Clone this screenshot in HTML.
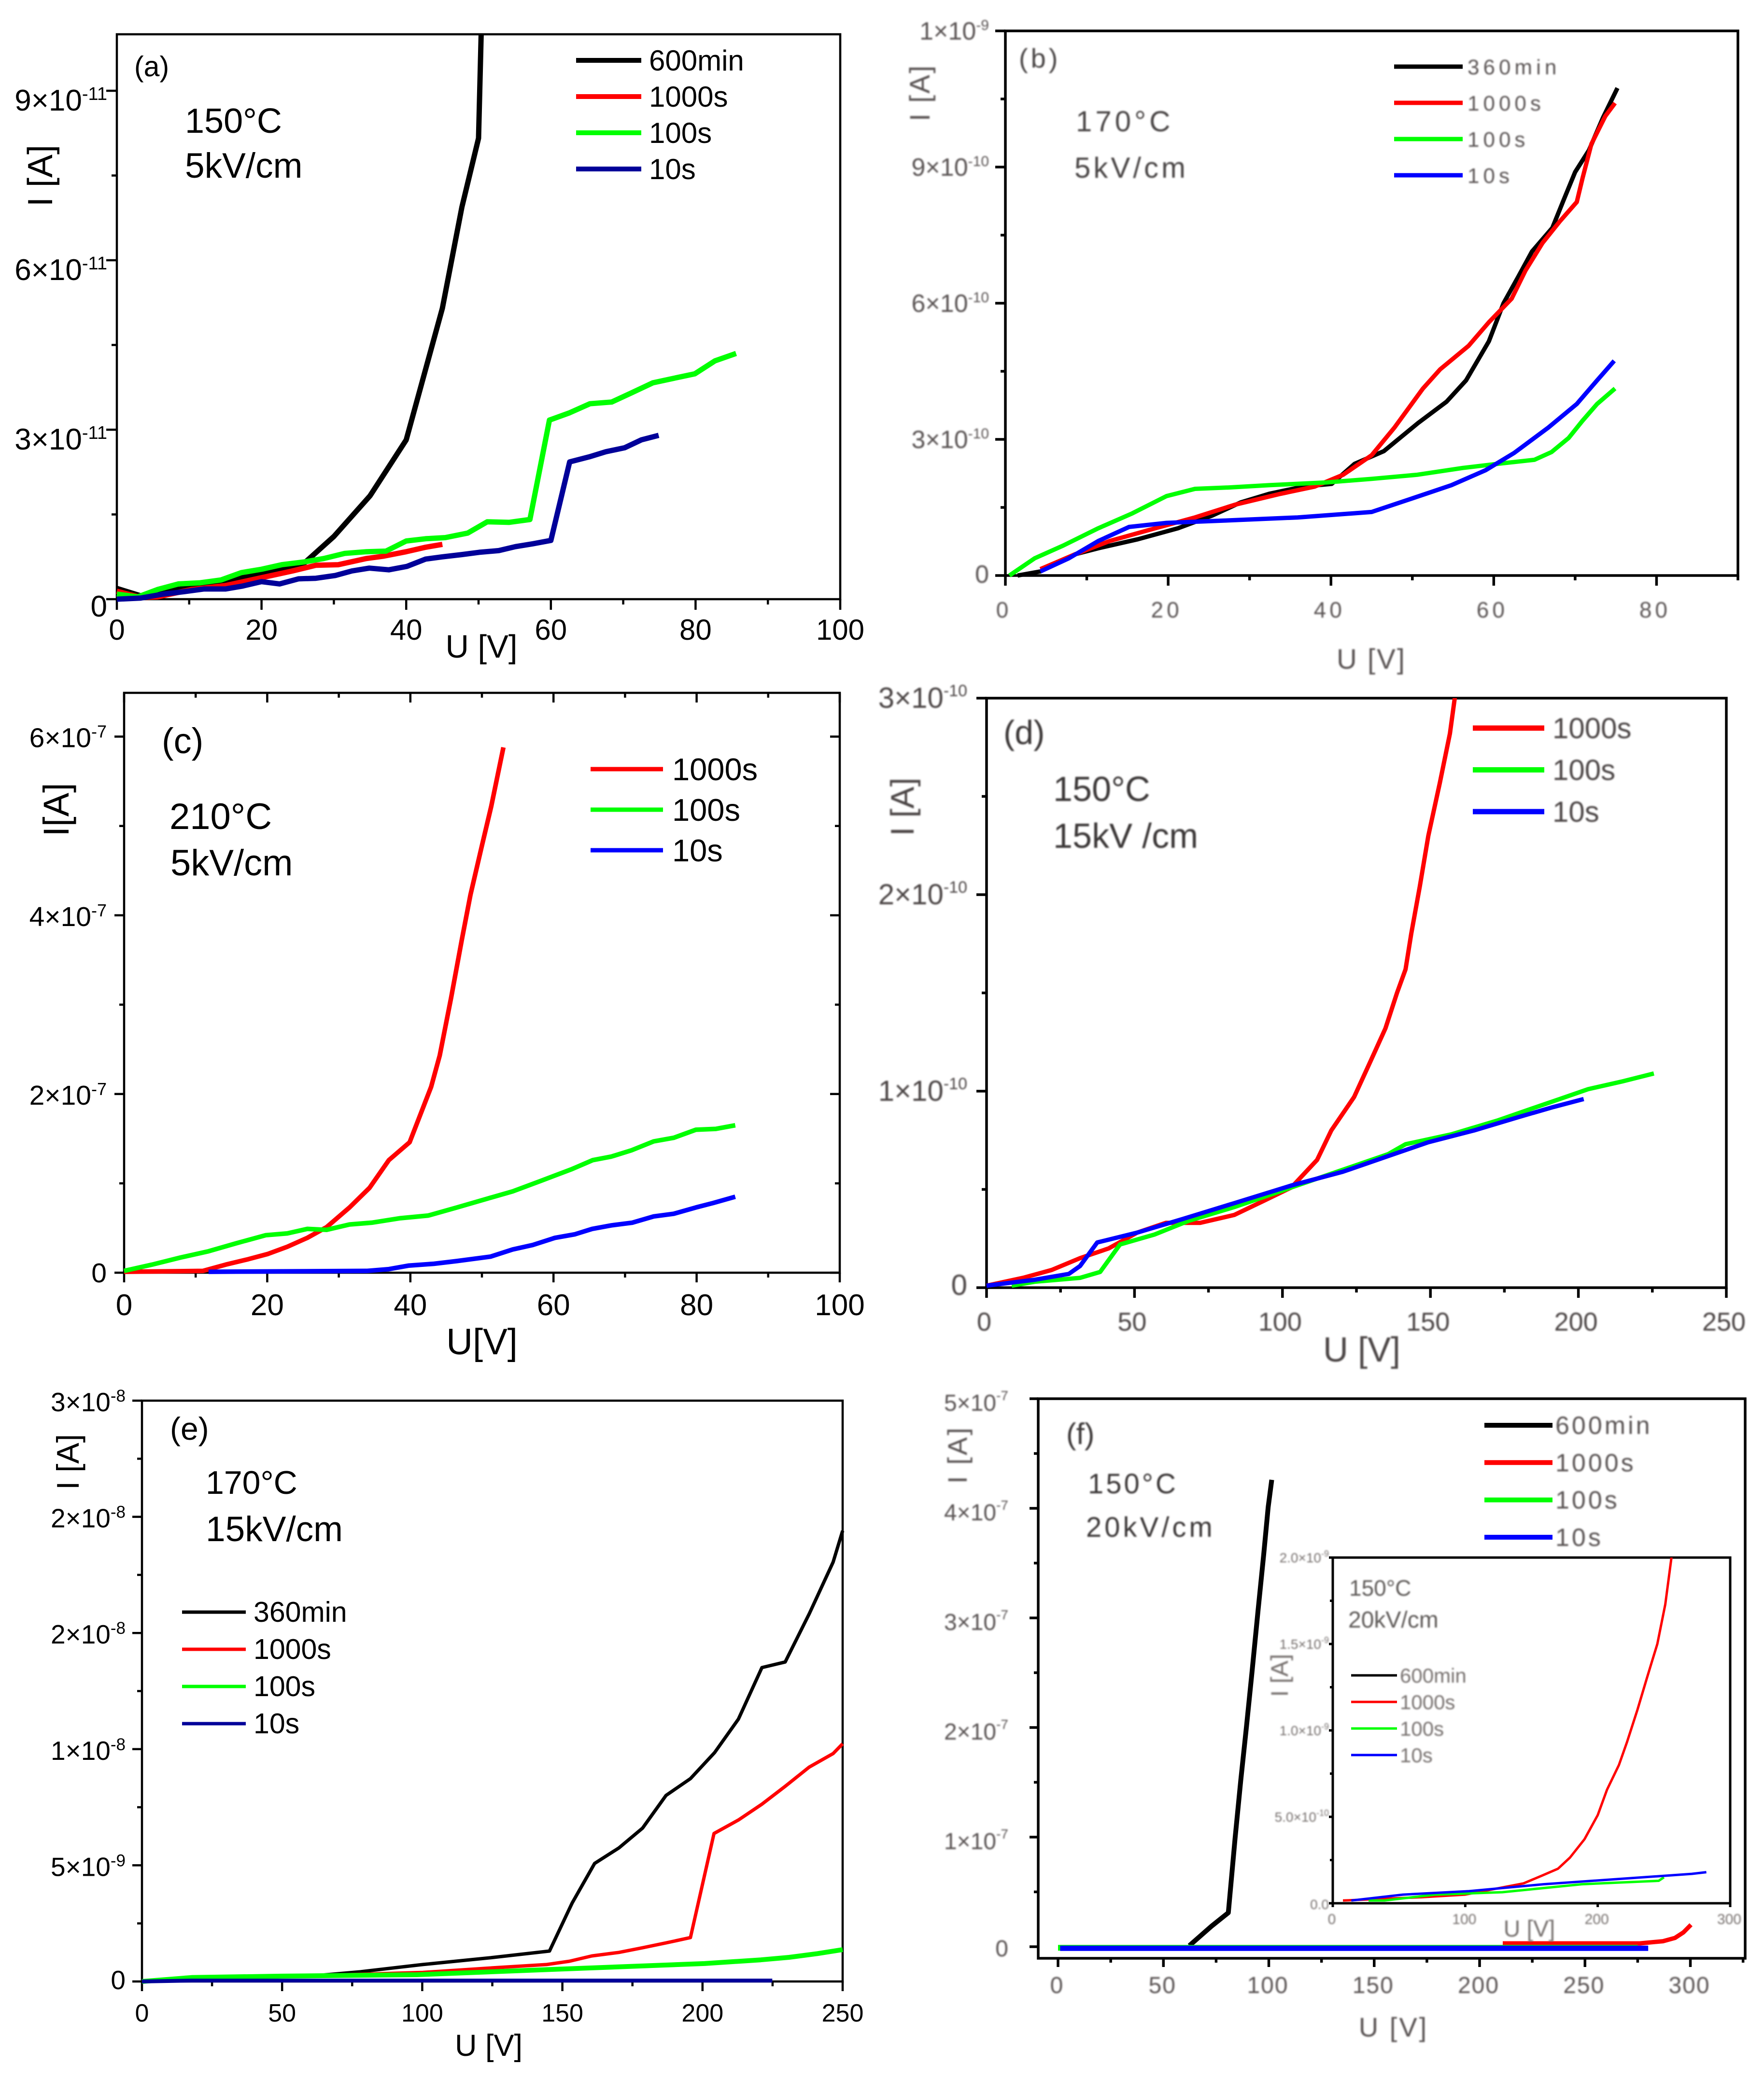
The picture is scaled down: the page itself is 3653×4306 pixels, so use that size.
<!DOCTYPE html>
<html lang="en">
<head>
<meta charset="utf-8">
<title>Current-voltage curves, panels a to f</title>
<style>
html,body{margin:0;padding:0;background:#fff}
svg{display:block}
text{font-family:"Liberation Sans",sans-serif}
</style>
</head>
<body>
<svg id="figure" xmlns="http://www.w3.org/2000/svg" width="3653" height="4306" viewBox="0 0 3653 4306">
<rect x="0" y="0" width="3653" height="4306" fill="#fff"/>
</svg>
<script>
// Panel (a): U in V, I in 1e-11 A
const aU600=[0,3.3,7,10,15,20,26,30,35,40,45,47.7,50,50.4];
const aI600=[0.19,0.06,0.15,0.2,0.32,0.46,0.65,1.11,1.83,2.82,5.15,6.94,8.16,10.2];
const aU1000=[0,3.3,5.6,10.3,15,20,24.3,27.5,30.6,34.5,36.8,40,42.7,45];
const aI1000=[0.14,0.03,0.04,0.17,0.24,0.38,0.5,0.6,0.61,0.72,0.76,0.84,0.92,0.97];
const aU100=[0,2.9,5.6,8.5,11.5,14.4,17.2,20,22.8,25.9,28.6,31.5,34.5,37.2,40,42.7,45.4,48.5,51.2,54.2,57.1,59.8,62.6,65.4,68.4,71.1,74.1,77,79.9,82.7,85.6];
const aI100=[0.09,0.04,0.17,0.27,0.29,0.34,0.47,0.53,0.61,0.66,0.72,0.81,0.84,0.85,1.03,1.07,1.09,1.17,1.37,1.36,1.41,3.17,3.3,3.46,3.49,3.65,3.83,3.91,3.99,4.22,4.35];
const aU10=[0,3.3,6.4,9.1,12,15,17.3,20,22.5,25.1,27.5,30.2,32.5,34.9,37.6,40.1,42.7,45,47.7,50.1,52.8,55.1,57.5,60,62.6,65.3,67.6,70.2,72.5,74.9];
const aI10=[0,0.02,0.09,0.13,0.18,0.18,0.23,0.31,0.27,0.36,0.37,0.42,0.5,0.55,0.52,0.58,0.71,0.75,0.79,0.83,0.86,0.93,0.98,1.04,2.43,2.52,2.61,2.68,2.82,2.9];
const aXTicks=[0,20,40,60,80,100];
const aXMinor=[10,30,50,70,90];
const aYTicks=[0,3,6,9];
const aYMinor=[1.5,4.5,7.5];
const aYLabels=['0','3×10^-11','6×10^-11','9×10^-11'];

// Panel (b): U in V, I in 1e-10 A
const bU360=[1.5,4.3,8.6,11.4,16.3,21.2,25.4,28.9,32.4,36.6,40.1,42.9,46.5,50.7,54.2,56.6,59.4,61.2,63,64.7,67.2,68.6,70,71.7,73.4,75.2];
const bI360=[0,0.09,0.47,0.6,0.8,1.04,1.32,1.61,1.8,1.96,2.02,2.46,2.74,3.36,3.83,4.3,5.16,6,6.58,7.14,7.66,8.28,8.89,9.37,10.08,10.74];
const bU1000=[4.3,8.6,12.8,18.4,23.3,28.2,33.8,38,41.5,45,47.8,51.3,53.4,56.9,59.4,62.2,63.9,66,68.1,70.2,70.9,72,73.7,74.9];
const bI1000=[0.14,0.47,0.76,1.04,1.28,1.56,1.8,1.96,2.22,2.65,3.26,4.12,4.54,5.06,5.58,6.1,6.72,7.33,7.8,8.23,8.75,9.51,10.12,10.41];
const bU100=[0.5,3.6,7.1,11.4,15.6,19.8,23.3,27.5,32.4,39.4,45,50.6,56.2,60.4,65,67.1,69.2,70.9,72.7,74.9];
const bI100=[0,0.38,0.66,1.04,1.37,1.75,1.91,1.94,1.99,2.05,2.13,2.22,2.37,2.46,2.55,2.72,3.03,3.41,3.78,4.12];
const bU10=[4.3,7.8,11.4,15.2,19.8,26.8,35.9,45,50,54.8,59,62.5,66.7,70.2,72.7,74.8];
const bI10=[0.09,0.38,0.76,1.07,1.16,1.21,1.28,1.4,1.7,1.99,2.32,2.7,3.26,3.78,4.3,4.73];
const bXTicks=[0,20,40,60,80];
const bXMinor=[10,30,50,70,90];
const bYTicks=[0,3,6,9,12];
const bYMinor=[1.5,4.5,7.5,10.5];
const bYLabels=['0','3×10^-10','6×10^-10','9×10^-10','1×10^-9'];

// Panel (c): U in V, I in 1e-7 A
const cU1000=[0,11,14.2,17.3,20.1,22.8,25.6,28.3,31.5,34.3,37,39.9,42.9,44.1,45.7,47.2,48.4,50,51.3,53];
const cI1000=[0.01,0.02,0.09,0.15,0.21,0.29,0.39,0.51,0.73,0.95,1.26,1.46,2.08,2.43,3.08,3.73,4.23,4.78,5.22,5.88];
const cU100=[0,3.9,7.9,11.8,15.7,19.8,22.8,25.6,28.3,31.5,34.6,38.6,42.5,46.5,50.8,54.3,58.3,62.6,65.5,68.1,70.9,74,76.8,79.9,82.7,85.4];
const cI100=[0.02,0.09,0.17,0.24,0.33,0.42,0.44,0.49,0.48,0.54,0.56,0.61,0.64,0.73,0.83,0.91,1.03,1.16,1.26,1.3,1.37,1.47,1.51,1.6,1.61,1.65];
const cU10=[11.8,33.9,37,39.8,43.3,46.5,51.2,54.3,57.1,60.2,63,65.4,68.1,71,74,76.8,79.9,82.3,85.4];
const cI10=[0.01,0.02,0.04,0.08,0.1,0.13,0.18,0.26,0.31,0.39,0.43,0.49,0.53,0.56,0.63,0.66,0.73,0.78,0.85];
const cXTicks=[0,20,40,60,80,100];
const cXMinor=[10,30,50,70,90];
const cYTicks=[0,2,4,6];
const cYMinor=[1,3,5];
const cYLabels=['0','2×10^-7','4×10^-7','6×10^-7'];

// Panel (d): U in V, I in 1e-10 A
const dU1000=[0,12.3,22,31.6,41.3,50.9,60.6,72.2,83.7,93.4,103,111.7,116.5,124.2,130,134.8,138.7,141.6,143.5,146.4,149.3,153.2,156.6,158.4];
const dI1000=[0.01,0.05,0.09,0.15,0.2,0.28,0.33,0.33,0.37,0.44,0.51,0.65,0.8,0.97,1.16,1.32,1.5,1.62,1.8,2.04,2.3,2.57,2.82,3.02];
const dU100=[8.5,16.2,31.6,38.4,45.1,56.7,68.3,83.7,95.3,108.8,120.4,135.8,141.6,157,172.5,184,193.7,203.3,214.9,225.5];
const dI100=[0.01,0.03,0.05,0.08,0.22,0.27,0.34,0.41,0.47,0.54,0.6,0.68,0.73,0.78,0.85,0.91,0.96,1.01,1.05,1.09];
const dU10=[0,16.2,27.8,31.6,37.4,50.9,66.4,83.7,103,120.4,135.8,149.3,164.7,180.2,191.7,201.8];
const dI10=[0.01,0.04,0.07,0.11,0.23,0.28,0.35,0.43,0.52,0.59,0.67,0.74,0.8,0.87,0.92,0.96];
const dXTicks=[0,50,100,150,200,250];
const dXMinor=[25,75,125,175,225];
const dYTicks=[0,1,2,3];
const dYMinor=[0.5,1.5,2.5];
const dYLabels=['0','1×10^-10','2×10^-10','3×10^-10'];

// Panel (e): U in V, I in 1e-9 A
const eU360=[0,17.7,61.9,78,100.2,124.3,145.4,153.5,161.5,170.2,178.6,187,195.7,204.3,212.8,221.2,229.5,238.1,246.6,250];
const eI360=[0,0.14,0.25,0.42,0.73,1.02,1.31,3.38,5.08,5.75,6.6,8.01,8.73,9.85,11.29,13.51,13.75,15.83,18.05,19.4];
const eU1000=[0,17.7,61.9,100.2,124.3,144.4,152.5,160.5,170.2,178.6,187,195.7,204.1,212.8,221.2,229.5,238.1,246.6,250];
const eI1000=[0,0.19,0.25,0.39,0.58,0.73,0.87,1.1,1.25,1.45,1.66,1.89,6.37,6.95,7.63,8.4,9.23,9.81,10.23];
const eU100=[0,17.7,49.9,98.1,146.4,200.7,220.8,230.9,241,250];
const eI100=[0,0.17,0.23,0.29,0.52,0.77,0.93,1.04,1.2,1.37];
const eU10=[0,17.7,224.9];
const eI10=[0,0.04,0.04];
const eXTicks=[0,50,100,150,200,250];
const eXMinor=[25,75,125,175,225];
const eYTicks=[0,5,10,15,20,25];
const eYMinor=[2.5,7.5,12.5,17.5,22.5];
const eYLabels=['0','5×10^-9','1×10^-8','2×10^-8','2×10^-8','3×10^-8'];

// Panel (f): U in V, I in 1e-7 A
const fU600=[62.3,73,80.8,84,86.7,89.4,92,94.9,97.6,99.7,101.4];
const fI600=[0.01,0.19,0.31,0.99,1.52,2.01,2.5,3.07,3.58,4.01,4.26];
const fU1000=[211,276,287,292.7,296.7,300.3];
const fI1000=[0.03,0.03,0.05,0.08,0.13,0.2];
const fU100=[0,275];
const fI100=[-0.01,-0.01];
const fU10=[1,280];
const fI10=[-0.015,-0.015];
const fXTicks=[0,50,100,150,200,250,300];
const fXMinor=[25,75,125,175,225,275,325];
const fYTicks=[0,1,2,3,4,5];
const fYMinor=[0.5,1.5,2.5,3.5,4.5];
const fYLabels=['0','1×10^-7','2×10^-7','3×10^-7','4×10^-7','5×10^-7'];

// Panel (f) inset: U in V, I in 1e-9 A
const iU1000=[7.7,67,100,144,158,170,179,190,200,207,216,222,230,237,241,245,251,256];
const iI1000=[0.016,0.035,0.05,0.115,0.16,0.2,0.264,0.37,0.51,0.657,0.8,0.93,1.12,1.3,1.4,1.5,1.73,2.02];
const iU100=[27,39,77,128,188,246,250];
const iI100=[0.016,0.016,0.05,0.064,0.11,0.13,0.15];
const iU10=[14,53,103,159,215,271,282];
const iI10=[0.016,0.05,0.07,0.11,0.14,0.17,0.18];
const iXTicks=[0,100,200,300];
const iXMinor=[];
const iYTicks=[0,0.5,1,1.5,2];
const iYMinor=[0.25,0.75,1.25,1.75];
const iYLabels=['0.0','5.0×10^-10','1.0×10^-9','1.5×10^-9','2.0×10^-9'];
const iXLabels=['0','100','200','300'];

const seriesBlack='#000000',seriesRed='#ff0000',seriesGreen='#00ff00',seriesNavy='#000099',seriesBlue='#0000ff';
const svgNS='http://www.w3.org/2000/svg';
const root=document.getElementById('figure');

function make(tag,parent,attrs){
  const el=document.createElementNS(svgNS,tag);
  for(const k in attrs){el.setAttribute(k,attrs[k]);}
  parent.appendChild(el);
  return el;
}
function fillLabel(el,label,fs,supFs,supUp){
  const parts=String(label).split('^');
  const base=document.createElementNS(svgNS,'tspan');
  base.textContent=parts[0];
  el.appendChild(base);
  if(parts.length>1){
    const sup=document.createElementNS(svgNS,'tspan');
    sup.setAttribute('font-size',supFs);
    sup.setAttribute('dy',-supUp);
    sup.textContent=parts[1];
    el.appendChild(sup);
  }
}
function slug(s){return String(s).toLowerCase().replace(/[^a-z0-9]+/g,'-').replace(/^-|-$/g,'');}

function drawPanel(p){
  const g=make('g',root,{});
  
  
  const b=p.box;
  const sx=v=>b.x0+(v-p.xDomain[0])/(p.xDomain[1]-p.xDomain[0])*(b.x1-b.x0);
  const sy=v=>b.y1-(v-p.yDomain[0])/(p.yDomain[1]-p.yDomain[0])*(b.y1-b.y0);
  const textG=make('g',g,{fill:p.textColor});
  
  
  if(p.blur){textG.setAttribute('style','filter:blur('+p.blur+'px)');}

  const frame=make('rect',g,{x:b.x0,y:b.y0,width:b.x1-b.x0,height:b.y1-b.y0,fill:'none',stroke:'#000','stroke-width':p.axisW});
  
  

  function tick(x1,y1,x2,y2,name){
    const t=make('line',g,{x1:x1,y1:y1,x2:x2,y2:y2,stroke:'#000','stroke-width':p.axisW});
    
    
  }
  p.xTicks.forEach(function(v){
    tick(sx(v),b.y1,sx(v),b.y1+p.major,'panel-'+p.id+'-x-tick');
    if(p.mirror){tick(sx(v),b.y0,sx(v),b.y0+p.major,'panel-'+p.id+'-top-tick');}
  });
  p.xMinor.forEach(function(v){
    tick(sx(v),b.y1,sx(v),b.y1+p.minor,'panel-'+p.id+'-x-minor-tick');
    if(p.mirror){tick(sx(v),b.y0,sx(v),b.y0+p.minor,'panel-'+p.id+'-top-minor-tick');}
  });
  p.yTicks.forEach(function(v){
    tick(b.x0,sy(v),b.x0-p.major,sy(v),'panel-'+p.id+'-y-tick');
    if(p.mirror){tick(b.x1,sy(v),b.x1-p.major,sy(v),'panel-'+p.id+'-right-tick');}
  });
  p.yMinor.forEach(function(v){
    tick(b.x0,sy(v),b.x0-p.minor,sy(v),'panel-'+p.id+'-y-minor-tick');
    if(p.mirror){tick(b.x1,sy(v),b.x1-p.minor,sy(v),'panel-'+p.id+'-right-minor-tick');}
  });

  p.xTicks.forEach(function(v,i){
    const t=make('text',textG,{x:sx(v)+p.xLabelShift,y:p.xLabelY,'font-size':p.tickFs,'text-anchor':'middle','letter-spacing':p.tickLs});
    
    
    t.textContent=p.xLabels?p.xLabels[i]:String(v);
  });
  p.yTicks.forEach(function(v,i){
    const label=p.yLabels[i];
    const dy=(label==='0'||label==='0.0')?p.yZeroDy:p.yLabelDy;
    const t=make('text',textG,{x:p.yLabelX,y:sy(v)+dy,'font-size':p.yFs,'text-anchor':'end'});
    
    
    fillLabel(t,label,p.yFs,p.supFs,p.supUp);
  });

  const xt=make('text',textG,{x:p.xTitle.x,y:p.xTitle.y,'font-size':p.xTitle.fs,'text-anchor':'middle','letter-spacing':p.xTitle.ls||0});
  
  
  xt.textContent=p.xTitle.text;
  const yt=make('text',textG,{x:p.yTitle.x,y:p.yTitle.y,'font-size':p.yTitle.fs,'text-anchor':'middle','letter-spacing':p.yTitle.ls||0,transform:'rotate(-90 '+p.yTitle.x+' '+p.yTitle.y+')'});
  
  
  yt.textContent=p.yTitle.text;

  p.notes.forEach(function(n){
    const t=make('text',textG,{x:n.x,y:n.y,'font-size':n.fs,'letter-spacing':n.ls||0,fill:n.fill||p.noteColor});
    
    
    t.textContent=n.text;
  });

  const clip=make('clipPath',g,{id:'clip-'+p.id});
  make('rect',clip,{x:b.x0-8,y:b.y0,width:b.x1-b.x0+16,height:b.y1-b.y0+8});
  p.series.forEach(function(s){
    const d=s.u.map(function(u,i){return (i?'L':'M')+sx(u).toFixed(1)+' '+sy(s.i[i]).toFixed(1);}).join('');
    const path=make('path',g,{d:d,fill:'none',stroke:s.color,'stroke-width':s.w||p.lineW,'stroke-linejoin':'round','clip-path':'url(#clip-'+p.id+')'});
    
    
  });

  const L=p.legend;
  p.series.forEach(function(s,i){
    if(s.noLegend){return;}
    const y=L.y0+L.dy*i;
    const line=make('line',g,{x1:L.x1,x2:L.x2,y1:y,y2:y,stroke:s.color,'stroke-width':s.legendW||L.w});
    
    
    const t=make('text',textG,{x:L.tx,y:y+L.base,'font-size':L.fs,'letter-spacing':L.ls||0,fill:L.fill||p.textColor});
    
    
    t.textContent=s.name;
  });
}

drawPanel({id:'a',box:{x0:242,x1:1740,y0:71,y1:1241},xDomain:[0,100],yDomain:[0,10],
  xTicks:aXTicks,xMinor:aXMinor,yTicks:aYTicks,yMinor:aYMinor,yLabels:aYLabels,
  axisW:4.5,major:22,minor:11,mirror:false,lineW:11,textColor:'#000',noteColor:'#000',
  tickFs:60,tickLs:0,xLabelY:1325,xLabelShift:0,yFs:62,supFs:38,supUp:22,yLabelX:222,yLabelDy:41,yZeroDy:36,
  xTitle:{text:'U [V]',x:997,y:1362,fs:67},yTitle:{text:'I [A]',x:108,y:364,fs:72},
  notes:[{text:'(a)',x:278,y:158,fs:59},{text:'150°C',x:383,y:275,fs:72},{text:'5kV/cm',x:383,y:368,fs:73}],
  legend:{x1:1193,x2:1328,tx:1344,y0:125,dy:75,fs:60,base:21,w:10},
  series:[{name:'600min',u:aU600,i:aI600,color:seriesBlack},{name:'1000s',u:aU1000,i:aI1000,color:seriesRed},{name:'100s',u:aU100,i:aI100,color:seriesGreen},{name:'10s',u:aU10,i:aI10,color:seriesNavy}]});

drawPanel({id:'b',box:{x0:2082,x1:3599,y0:64,y1:1192},xDomain:[0,90],yDomain:[0,12],
  xTicks:bXTicks,xMinor:bXMinor,yTicks:bYTicks,yMinor:bYMinor,yLabels:bYLabels,
  axisW:5.5,major:21,minor:10,mirror:false,lineW:9,textColor:'#5a5454',noteColor:'#4a4646',blur:1.5,
  tickFs:46,tickLs:7,xLabelY:1279,xLabelShift:-3,yFs:52,supFs:30,supUp:20,yLabelX:2048,yLabelDy:18,yZeroDy:15,
  xTitle:{text:'U [V]',x:2840,y:1385,fs:58,ls:3},yTitle:{text:'I [A]',x:1925,y:192,fs:58,ls:3},
  notes:[{text:'(b)',x:2110,y:140,fs:56,ls:6},{text:'170°C',x:2228,y:272,fs:60,ls:7},{text:'5kV/cm',x:2225,y:368,fs:60,ls:6}],
  legend:{x1:2887,x2:3029,tx:3039,y0:138,dy:75,fs:44,ls:8,base:16,w:9},
  series:[{name:'360min',u:bU360,i:bI360,color:seriesBlack},{name:'1000s',u:bU1000,i:bI1000,color:seriesRed},{name:'100s',u:bU100,i:bI100,color:seriesGreen},{name:'10s',u:bU10,i:bI10,color:seriesBlue}]});

drawPanel({id:'c',box:{x0:257,x1:1739,y0:1435,y1:2636},xDomain:[0,100],yDomain:[0,6.49],
  xTicks:cXTicks,xMinor:cXMinor,yTicks:cYTicks,yMinor:cYMinor,yLabels:cYLabels,
  axisW:4.5,major:20,minor:10,mirror:true,lineW:9.5,textColor:'#000',noteColor:'#000',
  tickFs:62,tickLs:0,xLabelY:2724,xLabelShift:0,yFs:57,supFs:36,supUp:20,yLabelX:221,yLabelDy:22,yZeroDy:20,
  xTitle:{text:'U[V]',x:998,y:2805,fs:76},yTitle:{text:'I[A]',x:142,y:1677,fs:74},
  notes:[{text:'(c)',x:335,y:1560,fs:74},{text:'210°C',x:351,y:1717,fs:76},{text:'5kV/cm',x:353,y:1813,fs:76}],
  legend:{x1:1223,x2:1373,tx:1392,y0:1593,dy:84,fs:65,base:23,w:9},
  series:[{name:'1000s',u:cU1000,i:cI1000,color:seriesRed},{name:'100s',u:cU100,i:cI100,color:seriesGreen},{name:'10s',u:cU10,i:cI10,color:seriesBlue}]});

drawPanel({id:'d',box:{x0:2043,x1:3575,y0:1446,y1:2667},xDomain:[0,250],yDomain:[0,3],
  xTicks:dXTicks,xMinor:dXMinor,yTicks:dYTicks,yMinor:dYMinor,yLabels:dYLabels,
  axisW:5.5,major:21,minor:10,mirror:false,lineW:9,textColor:'#4c4646',noteColor:'#3c3838',blur:1.5,
  tickFs:54,tickLs:0,xLabelY:2756,xLabelShift:-5,yFs:60,supFs:34,supUp:24,yLabelX:2003,yLabelDy:20,yZeroDy:15,
  xTitle:{text:'U [V]',x:2820,y:2820,fs:72},yTitle:{text:'I [A]',x:1892,y:1671,fs:68},
  notes:[{text:'(d)',x:2078,y:1541,fs:70},{text:'150°C',x:2181,y:1659,fs:72},{text:'15kV /cm',x:2181,y:1756,fs:72}],
  legend:{x1:3050,x2:3198,tx:3215,y0:1508,dy:86.5,fs:60,base:21,w:11},
  series:[{name:'1000s',u:dU1000,i:dI1000,color:seriesRed},{name:'100s',u:dU100,i:dI100,color:seriesGreen},{name:'10s',u:dU10,i:dI10,color:seriesBlue}]});

drawPanel({id:'e',box:{x0:294,x1:1745,y0:2901,y1:4104},xDomain:[0,250],yDomain:[0,25],
  xTicks:eXTicks,xMinor:eXMinor,yTicks:eYTicks,yMinor:eYMinor,yLabels:eYLabels,
  axisW:4.5,major:20,minor:10,mirror:false,lineW:7,textColor:'#000',noteColor:'#000',
  tickFs:52,tickLs:0,xLabelY:4187,xLabelShift:0,yFs:55,supFs:35,supUp:20,yLabelX:260,yLabelDy:22,yZeroDy:16,
  xTitle:{text:'U [V]',x:1012,y:4258,fs:63},yTitle:{text:'I [A]',x:163,y:3028,fs:65},
  notes:[{text:'(e)',x:352,y:2982,fs:66},{text:'170°C',x:426,y:3094,fs:68},{text:'15kV/cm',x:426,y:3192,fs:73}],
  legend:{x1:377,x2:509,tx:525,y0:3339,dy:77,fs:59,base:20,w:7},
  series:[{name:'360min',u:eU360,i:eI360,color:seriesBlack},{name:'1000s',u:eU1000,i:eI1000,color:seriesRed},{name:'100s',u:eU100,i:eI100,color:seriesGreen,w:10},{name:'10s',u:eU10,i:eI10,color:seriesNavy,w:8}]});

drawPanel({id:'f',box:{x0:2150,x1:3614,y0:2897,y1:4056},xDomain:[-9.4,326],yDomain:[-0.106,5],
  xTicks:fXTicks,xMinor:fXMinor,yTicks:fYTicks,yMinor:fYMinor,yLabels:fYLabels,
  axisW:5.5,major:18,minor:9,mirror:false,lineW:10,textColor:'#5a5454',noteColor:'#3c3838',blur:1.5,
  tickFs:48,tickLs:2,xLabelY:4128,xLabelShift:-2,yFs:48,supFs:28,supUp:22,yLabelX:2088,yLabelDy:25,yZeroDy:20,
  xTitle:{text:'U [V]',x:2886,y:4218,fs:56,ls:4},yTitle:{text:'I [A]',x:2002,y:3013,fs:56,ls:4},
  notes:[{text:'(f)',x:2208,y:2991,fs:62},{text:'150°C',x:2253,y:3093,fs:58,ls:5},{text:'20kV/cm',x:2249,y:3183,fs:58,ls:6}],
  legend:{x1:3074,x2:3215,tx:3221,y0:2952,dy:77.3,fs:52,ls:5,base:18,w:10},
  series:[{name:'600min',u:fU600,i:fI600,color:seriesBlack},{name:'1000s',u:fU1000,i:fI1000,color:seriesRed,w:9},{name:'100s',u:fU100,i:fI100,color:seriesGreen,w:12},{name:'10s',u:fU10,i:fI10,color:seriesBlue,w:11}]});

drawPanel({id:'f-inset',box:{x0:2760,x1:3583,y0:3226,y1:3942},xDomain:[0,300],yDomain:[0,2],
  xTicks:iXTicks,xLabels:iXLabels,xMinor:iXMinor,yTicks:iYTicks,yMinor:iYMinor,yLabels:iYLabels,
  axisW:5,major:8,minor:6,mirror:false,lineW:5,textColor:'#77716f',noteColor:'#5e5a58',blur:1.5,
  tickFs:30,tickLs:0,xLabelY:3985,xLabelShift:-2,yFs:28,supFs:18,supUp:12,yLabelX:2752,yLabelDy:10,yZeroDy:12,
  xTitle:{text:'U [V]',x:3167,y:4011,fs:48},yTitle:{text:'I [A]',x:2667,y:3470,fs:50},
  notes:[{text:'150°C',x:2794,y:3305,fs:46},{text:'20kV/cm',x:2792,y:3371,fs:48}],
  legend:{x1:2798,x2:2893,tx:2899,y0:3470,dy:55,fs:42,base:15,w:5},
  series:[{name:'600min',u:[],i:[],color:seriesBlack},{name:'1000s',u:iU1000,i:iI1000,color:seriesRed},{name:'100s',u:iU100,i:iI100,color:seriesGreen},{name:'10s',u:iU10,i:iI10,color:seriesBlue}]});
</script>
</body>
</html>
